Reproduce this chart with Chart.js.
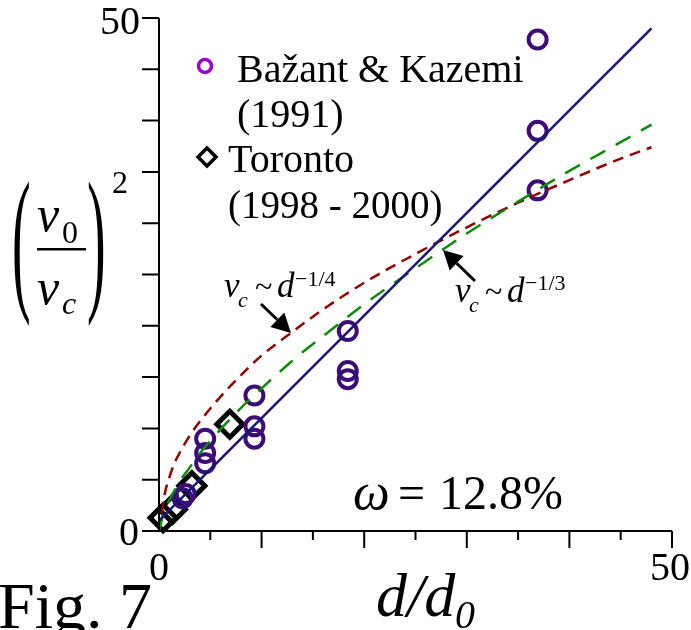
<!DOCTYPE html>
<html><head><meta charset="utf-8">
<script src="https://cdn.jsdelivr.net/npm/chart.js@4.4.1/dist/chart.umd.min.js"></script>
<style>html,body{margin:0;padding:0;background:#fff;}canvas{display:block;}</style>
</head><body>
<canvas id="c" width="691" height="630"></canvas>
<script>
// ---- data ----
const tickValues = [5, 10, 15, 20, 25, 30, 35, 40, 45, 50];
const xTickLabels = ['0', '50'];
const yTickLabels = ['0', '50'];
// Bažant & Kazemi (1991)
const bkX = [36.9, 36.9, 36.9, 18.4, 18.4, 18.4, 9.3, 9.3, 9.3, 4.5, 4.5, 4.5, 2.3, 2.6];
const bkY = [47.9, 39.0, 33.2, 19.5, 15.6, 14.8, 13.2, 10.2, 9.0, 9.0, 7.6, 6.6, 3.2, 3.6];
// Toronto (1998 - 2000)
const torX = [0.4, 1.3, 3.2, 6.9];
const torY = [1.3, 2.1, 4.4, 10.4];
// linear law (solid blue)
const linX = [0, 48];
const linY = [1, 49];
// v_c ~ d^-1/3 (green dashed)
const cbX = [0, 0.5, 1, 2, 3, 4, 6, 8, 10, 13, 16, 20, 25, 30, 35, 40, 45, 48];
const cbY = [0, 1.9, 3.0, 4.8, 6.2, 7.6, 9.9, 12.0, 13.9, 16.6, 19.0, 22.1, 25.6, 29.0, 32.1, 35.1, 37.9, 39.6];
// v_c ~ d^-1/4 (red dashed)
const sqX = [0, 0.3, 0.6, 1, 1.5, 2, 3, 4, 6, 8, 10, 13, 16, 20, 25, 30, 35, 40, 45, 48];
const sqY = [0, 2.0, 3.8, 5.2, 6.6, 7.6, 9.3, 10.7, 13.1, 15.2, 17.1, 19.4, 21.6, 24.2, 27.0, 29.6, 32.0, 34.2, 36.3, 37.4];

const pts = (xs, ys) => xs.map((x, i) => ({x: x, y: ys[i]}));
const SERIF = '"Liberation Serif","Times New Roman",serif';

function t(ctx, s, x, y, size, style, align) {
  ctx.font = (style || '') + ' ' + size + 'px ' + SERIF;
  ctx.textAlign = align || 'left';
  ctx.textBaseline = 'alphabetic';
  ctx.fillText(s, x, y);
}
function arrow(ctx, x0, y0, x1, y1, hl, hw) {
  const a = Math.atan2(y1 - y0, x1 - x0);
  const bx = x1 - hl * Math.cos(a), by = y1 - hl * Math.sin(a);
  ctx.beginPath(); ctx.moveTo(x0, y0); ctx.lineTo(bx, by); ctx.lineWidth = 3; ctx.stroke();
  ctx.beginPath(); ctx.moveTo(x1, y1);
  ctx.lineTo(bx + hw / 2 * Math.sin(a), by - hw / 2 * Math.cos(a));
  ctx.lineTo(bx - hw / 2 * Math.sin(a), by + hw / 2 * Math.cos(a));
  ctx.closePath(); ctx.fill();
}

const decor = {
  id: 'decor',
  afterDraw(chart) {
    const ctx = chart.ctx, xs = chart.scales.x, ys = chart.scales.y;
    const x0 = xs.getPixelForValue(0), y0 = ys.getPixelForValue(0);
    const x50 = xs.getPixelForValue(50), y50 = ys.getPixelForValue(50);
    ctx.save();
    ctx.strokeStyle = '#000'; ctx.fillStyle = '#000'; ctx.lineWidth = 2;
    // axes
    ctx.beginPath();
    ctx.moveTo(x0, y50); ctx.lineTo(x0, y0);
    ctx.moveTo(x0 - 17, y0); ctx.lineTo(x50, y0);
    tickValues.forEach(v => {
      const py = ys.getPixelForValue(v);
      ctx.moveTo(x0 - 17, py); ctx.lineTo(x0, py);
      const px = xs.getPixelForValue(v);
      ctx.moveTo(px, y0); ctx.lineTo(px, y0 + (v % 10 === 0 ? 17 : 9));
    });
    ctx.stroke();
    // tick labels
    t(ctx, yTickLabels[0], x0 - 20, y0 + 14, 40, '', 'right');
    t(ctx, yTickLabels[1], x0 - 19, y50 + 16, 40, '', 'right');
    t(ctx, xTickLabels[0], x0, 580, 40, '', 'center');
    t(ctx, xTickLabels[1], x50 - 2, 580, 40, '', 'center');
    // axis title x
    t(ctx, 'd/d', 376, 616, 62, 'italic');
    t(ctx, '0', 455, 628, 40, 'italic');
    t(ctx, 'Fig. 7', -2, 628, 66, '');
    // y title: (v0/vc)^2
    const parenFs = 56, sc = 2.85;
    [['(', 12], [')', 87]].forEach(([ch, px]) => {
      ctx.save(); ctx.translate(px, 251); ctx.scale(1, sc);
      t(ctx, ch, 0, 0.255 * parenFs, parenFs, ''); ctx.restore();
    });
    t(ctx, 'v', 37, 231, 50, 'italic');
    t(ctx, '0', 62, 243, 32, '');
    ctx.fillRect(37, 248, 49, 2.5);
    t(ctx, 'v', 37, 304, 50, 'italic');
    t(ctx, 'c', 62, 314, 32, 'italic');
    t(ctx, '2', 112, 193, 32, '');
    // legend
    ctx.lineWidth = 3.5;
    ctx.strokeStyle = '#9a00cc';
    ctx.beginPath(); ctx.arc(205, 66, 6.5, 0, Math.PI * 2); ctx.stroke();
    ctx.strokeStyle = '#000';
    ctx.beginPath(); ctx.moveTo(198, 157); ctx.lineTo(207, 148); ctx.lineTo(216, 157); ctx.lineTo(207, 166); ctx.closePath(); ctx.stroke();
    t(ctx, 'Bažant & Kazemi', 237, 82, 40, '');
    t(ctx, '(1991)', 237, 127, 40, '');
    t(ctx, 'Toronto', 228, 172, 40, '');
    t(ctx, '(1998 - 2000)', 228, 218, 39, '');
    // omega
    t(ctx, 'ω', 353, 509, 52, 'italic');
    t(ctx, '=', 398, 509, 48, '');
    t(ctx, '12.8%', 439, 509, 48, '');
    // annotations
    t(ctx, 'v', 224, 297, 35, 'italic');
    t(ctx, 'c', 238, 307, 22, 'italic');
    t(ctx, '~', 255, 297, 32, '');
    t(ctx, 'd', 277, 297, 35, 'italic');
    t(ctx, '−1/4', 295, 286, 22, '');
    t(ctx, 'v', 455, 302, 35, 'italic');
    t(ctx, 'c', 469, 312, 22, 'italic');
    t(ctx, '~', 485, 302, 32, '');
    t(ctx, 'd', 507, 302, 35, 'italic');
    t(ctx, '−1/3', 525, 290, 22, '');
    arrow(ctx, 261, 304, 291, 333, 19, 20);
    arrow(ctx, 475, 281, 443, 250, 19, 20);
    ctx.restore();
  }
};

new Chart(document.getElementById('c'), {
  type: 'scatter',
  data: {
    datasets: [
      {label: 'linear', data: pts(linX, linY), showLine: true, pointRadius: 0, borderColor: '#16167e', borderWidth: 2.5, order: 0},
      {label: 'd^-1/3', data: pts(cbX, cbY), showLine: true, pointRadius: 0, borderColor: '#0a8c0a', borderWidth: 2.5, borderDash: [17, 12], tension: 0.4, order: 0},
      {label: 'd^-1/4', data: pts(sqX, sqY), showLine: true, pointRadius: 0, borderColor: '#960000', borderWidth: 2.5, borderDash: [11, 7], tension: 0.4, order: 0},
      {label: 'Bažant & Kazemi (1991)', data: pts(bkX, bkY), pointStyle: 'circle', pointRadius: 9, borderWidth: 4, borderColor: '#3c0c78', backgroundColor: 'rgba(0,0,0,0)', order: 1},
      {label: 'Toronto (1998 - 2000)', data: pts(torX, torY), pointStyle: 'rectRot', pointRadius: 13, borderWidth: 5, borderColor: '#000', backgroundColor: 'rgba(0,0,0,0)', order: 2}
    ]
  },
  options: {
    responsive: false, animation: false, devicePixelRatio: 1,
    layout: {padding: {left: 159, right: 19, top: 18, bottom: 99}},
    scales: {
      x: {type: 'linear', min: 0, max: 50, display: false},
      y: {type: 'linear', min: 0, max: 50, display: false}
    },
    plugins: {legend: {display: false}, tooltip: {enabled: false}},
    elements: {line: {cubicInterpolationMode: 'monotone'}},
    clip: false
  },
  plugins: [decor]
});
</script>
</body></html>
